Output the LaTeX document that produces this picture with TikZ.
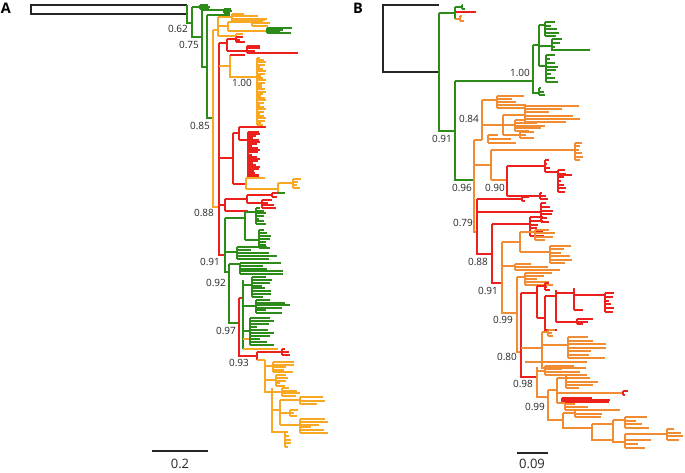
\documentclass[tikz,border=0pt]{standalone}
\usepackage{fontspec}
\setmainfont{Open Sans}
\definecolor{trgreen}{RGB}{45,140,25}
\definecolor{trorA}{RGB}{248,168,35}
\definecolor{trorB}{RGB}{242,140,50}
\definecolor{trred}{RGB}{236,32,28}
\tikzset{
  br/.style={line width=1.1pt},
  grn/.style={br, draw=trgreen},
  ora/.style={br, draw=trorA},
  orb/.style={br, draw=trorB},
  rd/.style={br, draw=trred},
  blk/.style={br, draw=black!85},
  bs/.style={font=\fontsize{10}{12}\selectfont, text=black!85, inner sep=0pt},
  scl/.style={font=\fontsize{13}{15}\selectfont, text=black!85, inner sep=0pt},
  pan/.style={font=\bfseries\fontsize{14.5}{16}\selectfont, inner sep=0pt},
}
% vertical stem with n+1 tips of varying length
\newcommand{\tipcomb}[6]{%
  \draw[#6] (#1,#2) -- (#1,#3);
  \foreach \k in {0,...,#4}{
    \pgfmathsetmacro{\tipy}{round(#2+(#3-#2)*\k/#4)}
    \pgfmathsetmacro{\tipl}{#5*(0.3+0.7*abs(sin(\k*137+#1*7)))}
    \draw[#6, line width=1.4pt] (#1,\tipy) -- ++(\tipl,0);
  }}
\begin{document}
\begin{tikzpicture}[x=1pt, y=-1pt]
  \useasboundingbox (0,0) rectangle (685,472);
  %% ---------- panel A ----------
  \node[pan] (labA) at (6,8) {A};
  \draw[blk] (187,5) -- (31,5) -- (31,14) -- (187,14);
  \draw[grn] (187,5) -- (187,23) -- (192,23);
  \draw[grn] (192,7) -- (192,37) -- (202,37);
  \draw[grn] (192,7) -- (200,7);
  \tipcomb{200}{5}{9}{2}{10}{grn}
  \draw[grn] (202,10) -- (202,67) -- (207,67);
  \draw[grn] (202,10) -- (224,10);
  \tipcomb{224}{9}{13}{2}{8}{grn}
  \draw[grn] (207,15) -- (207,118) -- (213,118);
  \draw[grn] (207,15) -- (230,15);
  \node[bs] (a62) at (178,29) {0.62};
  \node[bs] (a75) at (189,45) {0.75};
  \node[bs] (a85) at (200,126) {0.85};
  % orange top clade
  \draw[ora] (213,30) -- (213,207) -- (219,207);
  \draw[ora] (213,30) -- (218,30);
  \draw[ora] (218,17) -- (218,36);
  \draw[ora] (218,17) -- (232,17);
  \tipcomb{232}{14}{21}{3}{35}{ora}
  \draw[ora] (218,26) -- (228,26);
  \draw[ora] (228,22) -- (228,31);
  \draw[ora] (228,22) -- (252,22);
  \tipcomb{252}{20}{26}{2}{18}{ora}
  \draw[ora] (228,31) -- (267,31);
  \tipcomb{267}{28}{33}{3}{26}{grn}
  \draw[ora] (218,36) -- (236,36);
  \tipcomb{236}{34}{37}{1}{10}{ora}
  \node[bs] (a88) at (204,213) {0.88};
  % red backbone
  \draw[rd] (219,43) -- (219,255) -- (225,255);
  \draw[rd] (219,43) -- (227,43);
  \draw[rd] (227,39) -- (227,51);
  \draw[rd] (227,39) -- (236,39);
  \tipcomb{236}{37}{42}{2}{10}{rd}
  \draw[rd] (227,51) -- (247,51);
  \tipcomb{247}{46}{53}{3}{14}{rd}
  \draw[rd] (247,53) -- (298,53);
  % orange 1.00
  \draw[ora] (219,66) -- (230,66);
  \draw[ora] (230,55) -- (230,77) -- (257,77);
  \draw[rd] (230,55) -- (245,55);
  \tipcomb{257}{58}{125}{30}{9}{ora}
  \node[bs] (a100) at (242,83) {1.00};
  % red middle clade
  \draw[rd] (219,158) -- (233,158);
  \draw[rd] (233,133) -- (233,184);
  \draw[rd] (233,133) -- (239,133);
  \draw[rd] (239,127) -- (239,140);
  \draw[rd] (239,127) -- (266,127);
  \draw[rd] (239,140) -- (248,140);
  \tipcomb{248}{132}{177}{22}{12}{rd}
  \draw[rd] (233,184) -- (246,184);
  \draw[ora] (246,178) -- (246,189);
  \draw[ora] (246,178) -- (265,178);
  \draw[ora] (246,189) -- (278,189);
  \draw[ora] (278,183) -- (278,193);
  \draw[ora] (278,183) -- (293,183);
  \tipcomb{293}{179}{188}{3}{8}{ora}
  \draw[grn] (278,193) -- (285,193);
  % red lower clade
  \draw[rd] (219,205) -- (225,205);
  \draw[rd] (225,199) -- (225,211);
  \draw[rd] (225,199) -- (247,199);
  \draw[rd] (247,195) -- (247,203);
  \draw[rd] (247,195) -- (272,195);
  \tipcomb{272}{193}{197}{1}{6}{rd}
  \draw[rd] (247,203) -- (262,203);
  \tipcomb{262}{200}{208}{3}{14}{rd}
  \draw[rd] (225,211) -- (248,211);
  % green 0.91
  \draw[grn] (225,218) -- (225,272) -- (229,272);
  \draw[grn] (225,218) -- (245,218);
  \draw[grn] (245,212) -- (245,240);
  \draw[grn] (245,212) -- (256,212);
  \tipcomb{256}{208}{224}{6}{10}{grn}
  \draw[grn] (245,240) -- (259,240);
  \tipcomb{259}{230}{248}{6}{12}{grn}
  \draw[grn] (225,252) -- (237,252);
  \tipcomb{237}{247}{259}{4}{40}{grn}
  \node[bs] (a91) at (210,262) {0.91};
  % green 0.92
  \draw[grn] (229,264) -- (229,323) -- (239,323);
  \draw[grn] (229,264) -- (240,264);
  \tipcomb{240}{263}{274}{4}{45}{grn}
  \node[bs] (a92) at (216,283) {0.92};
  % 0.97
  \draw[rd] (239,298) -- (239,356) -- (257,356);
  \draw[rd] (239,298) -- (243,298);
  \draw[grn] (243,280) -- (243,349);
  \draw[grn] (243,285) -- (252,285);
  \tipcomb{252}{277}{297}{7}{20}{grn}
  \draw[grn] (243,306) -- (256,306);
  \tipcomb{256}{300}{313}{5}{34}{grn}
  \draw[grn] (243,331) -- (250,331);
  \tipcomb{250}{318}{345}{9}{24}{grn}
  \draw[ora] (243,349) -- (278,349);
  \draw[ora] (243,339) -- (249,339);
  \node[bs] (a97) at (226,331) {0.97};
  % 0.93
  \draw[rd] (257,352) -- (257,360);
  \draw[rd] (257,352) -- (282,352);
  \tipcomb{282}{349}{355}{2}{8}{rd}
  \draw[ora] (257,360) -- (265,360);
  \node[bs] (a93) at (239,363) {0.93};
  % orange bottom clade
  \draw[ora] (265,360) -- (265,392) -- (272,392);
  \draw[ora] (265,366) -- (273,366);
  \tipcomb{273}{362}{372}{4}{22}{ora}
  \draw[ora] (265,380) -- (276,380);
  \tipcomb{276}{375}{386}{4}{12}{ora}
  \draw[ora] (272,388) -- (272,432) -- (285,432);
  \draw[ora] (272,392) -- (282,392);
  \tipcomb{282}{388}{396}{3}{18}{ora}
  \draw[ora] (272,410) -- (280,410);
  \draw[ora] (280,400) -- (280,425);
  \draw[ora] (280,400) -- (300,400);
  \tipcomb{300}{397}{404}{2}{25}{ora}
  \draw[ora] (280,413) -- (290,413);
  \tipcomb{290}{410}{416}{2}{10}{ora}
  \draw[ora] (280,425) -- (300,425);
  \tipcomb{300}{419}{433}{5}{28}{ora}
  \tipcomb{285}{432}{447}{4}{6}{ora}
  % scale A
  \draw[blk] (152,451) -- (208,451);
  \node[scl] (sclA) at (180,464) {0.2};
  %% ---------- panel B ----------
  \node[pan] (labB) at (358,8) {B};
  \draw[blk] (439,5) -- (383,5) -- (383,72) -- (439,72);
  \draw[grn] (439,13) -- (439,131) -- (455,131);
  \draw[grn] (439,13) -- (455,13);
  \draw[grn] (455,7) -- (455,19);
  \draw[grn] (455,7) -- (462,7);
  \tipcomb{462}{5}{9}{1}{4}{grn}
  \draw[rd] (455,12) -- (476,12);
  \draw[orb] (455,19) -- (460,19);
  \tipcomb{460}{16}{21}{1}{4}{orb}
  \node[bs] (b91a) at (442,139) {0.91};
  \draw[grn] (455,81) -- (455,180) -- (474,180);
  \draw[grn] (455,81) -- (533,81);
  % clade 1.00
  \draw[grn] (533,45) -- (533,93) -- (539,93);
  \tipcomb{539}{88}{95}{2}{6}{grn}
  \draw[grn] (533,45) -- (539,45);
  \draw[grn] (539,25) -- (539,66);
  \draw[grn] (539,25) -- (545,25);
  \tipcomb{545}{22}{36}{4}{14}{grn}
  \draw[grn] (539,46) -- (552,46);
  \draw[grn] (552,39) -- (552,50) -- (590,50);
  \tipcomb{552}{39}{47}{2}{10}{grn}
  \draw[grn] (539,66) -- (546,66);
  \tipcomb{546}{55}{82}{7}{12}{grn}
  \node[bs] (b100) at (520,73) {1.00};
  % 0.96 and 0.84
  \node[bs] (b96) at (462,188) {0.96};
  \draw[orb] (474,140) -- (474,232) -- (477,232);
  \draw[orb] (474,140) -- (482,140);
  \draw[orb] (482,100) -- (482,140);
  \draw[orb] (482,100) -- (497,100);
  \tipcomb{497}{96}{108}{4}{30}{orb}
  \draw[orb] (482,125) -- (503,125);
  \draw[orb] (503,115) -- (503,135);
  \draw[orb] (503,115) -- (525,115);
  \tipcomb{525}{106}{122}{5}{55}{orb}
  \draw[orb] (503,125) -- (515,125);
  \tipcomb{515}{120}{131}{4}{30}{orb}
  \draw[orb] (503,135) -- (520,135);
  \tipcomb{520}{132}{138}{2}{18}{orb}
  \tipcomb{488}{135}{143}{2}{28}{orb}
  \node[bs] (b84) at (469,119) {0.84};
  % 0.90
  \draw[orb] (474,165) -- (491,165);
  \draw[orb] (491,150) -- (491,180);
  \draw[orb] (491,150) -- (575,150);
  \tipcomb{575}{143}{160}{5}{8}{orb}
  \draw[orb] (491,180) -- (507,180);
  \draw[rd] (507,166) -- (507,196);
  \draw[rd] (507,166) -- (545,166);
  \tipcomb{545}{160}{172}{3}{6}{rd}
  \draw[rd] (545,172) -- (558,172);
  \tipcomb{558}{170}{192}{6}{8}{rd}
  \draw[rd] (558,175) -- (572,175);
  \draw[rd] (507,196) -- (540,196);
  \tipcomb{540}{193}{199}{2}{8}{rd}
  \node[bs] (b90) at (495,188) {0.90};
  % 0.79 and 0.88
  \draw[rd] (477,199) -- (477,254) -- (492,254);
  \draw[rd] (477,199) -- (522,199);
  \tipcomb{522}{197}{201}{1}{8}{rd}
  \draw[rd] (477,212) -- (541,212);
  \tipcomb{541}{203}{222}{5}{12}{rd}
  \node[bs] (b79) at (463,223) {0.79};
  \draw[rd] (492,224) -- (492,283) -- (502,283);
  \draw[rd] (492,224) -- (530,224);
  \tipcomb{530}{217}{236}{5}{14}{rd}
  \node[bs] (b88) at (478,262) {0.88};
  % 0.91
  \draw[orb] (502,242) -- (502,313) -- (517,313);
  \draw[orb] (502,242) -- (520,242);
  \draw[orb] (520,232) -- (520,252);
  \draw[orb] (520,232) -- (535,232);
  \tipcomb{535}{230}{240}{3}{20}{orb}
  \draw[orb] (520,252) -- (550,252);
  \tipcomb{550}{246}{263}{5}{22}{orb}
  \draw[orb] (502,266) -- (515,266);
  \tipcomb{515}{264}{270}{2}{45}{orb}
  \node[bs] (b91b) at (488,291) {0.91};
  % 0.99
  \draw[orb] (517,277) -- (517,352) -- (521,352);
  \draw[orb] (517,277) -- (525,277);
  \tipcomb{525}{273}{285}{4}{28}{orb}
  \node[bs] (b99a) at (503,320) {0.99};
  % 0.80
  \draw[rd] (521,293) -- (521,377) -- (537,377);
  \draw[rd] (521,293) -- (537,293);
  \draw[rd] (537,286) -- (537,318);
  \draw[rd] (537,286) -- (545,286);
  \tipcomb{545}{283}{290}{2}{6}{rd}
  \draw[rd] (537,318) -- (545,318);
  \draw[rd] (545,296) -- (545,330) -- (557,330);
  \draw[rd] (545,296) -- (556,296);
  \draw[rd] (556,290) -- (556,322);
  \draw[rd] (556,293) -- (574,293);
  \draw[rd] (574,288) -- (574,310);
  \draw[rd] (574,295) -- (605,295);
  \tipcomb{605}{293}{312}{5}{9}{rd}
  \draw[rd] (574,310) -- (583,310);
  \draw[rd] (556,322) -- (577,322);
  \tipcomb{577}{319}{324}{2}{16}{rd}
  \draw[orb] (521,348) -- (542,348);
  \draw[orb] (542,332) -- (542,368) -- (586,368);
  \draw[orb] (542,332) -- (548,332);
  \tipcomb{548}{330}{336}{2}{8}{orb}
  \draw[orb] (542,345) -- (568,345);
  \tipcomb{568}{337}{358}{6}{40}{orb}
  \draw[orb] (525,362) -- (587,362);
  \node[bs] (b80) at (507,357) {0.80};
  % 0.98
  \draw[orb] (537,367) -- (537,397) -- (548,397);
  \draw[orb] (537,371) -- (545,371);
  \tipcomb{545}{366}{375}{3}{42}{orb}
  \node[bs] (b98) at (523,384) {0.98};
  % 0.99 lower
  \draw[orb] (548,390) -- (548,420) -- (563,420);
  \draw[orb] (548,390) -- (557,390);
  \draw[orb] (557,378) -- (557,403);
  \draw[orb] (557,378) -- (566,378);
  \tipcomb{566}{375}{388}{4}{32}{orb}
  \draw[orb] (557,393) -- (623,393);
  \tipcomb{623}{391}{395}{1}{7}{rd}
  \tipcomb{562}{398}{402}{2}{50}{rd}
  \draw[orb] (557,403) -- (565,403);
  \tipcomb{565}{404}{410}{2}{28}{orb}
  \node[bs] (b99b) at (535,407) {0.99};
  % bottom ladder
  \draw[orb] (563,413) -- (563,428) -- (592,428);
  \draw[orb] (563,413) -- (575,413);
  \tipcomb{575}{410}{417}{2}{48}{orb}
  \draw[orb] (592,424) -- (592,440) -- (612,440);
  \draw[orb] (592,424) -- (613,424);
  \draw[orb] (613,420) -- (613,442) -- (625,442);
  \draw[orb] (613,420) -- (625,420);
  \tipcomb{625}{417}{428}{3}{25}{orb}
  \draw[orb] (625,434) -- (625,448);
  \draw[orb] (625,434) -- (667,434);
  \tipcomb{667}{429}{440}{3}{16}{orb}
  \tipcomb{625}{440}{448}{2}{30}{orb}
  % scale B
  \draw[blk] (517,453) -- (548,453);
  \node[scl] (sclB) at (532,464) {0.09};
\end{tikzpicture}
\end{document}
